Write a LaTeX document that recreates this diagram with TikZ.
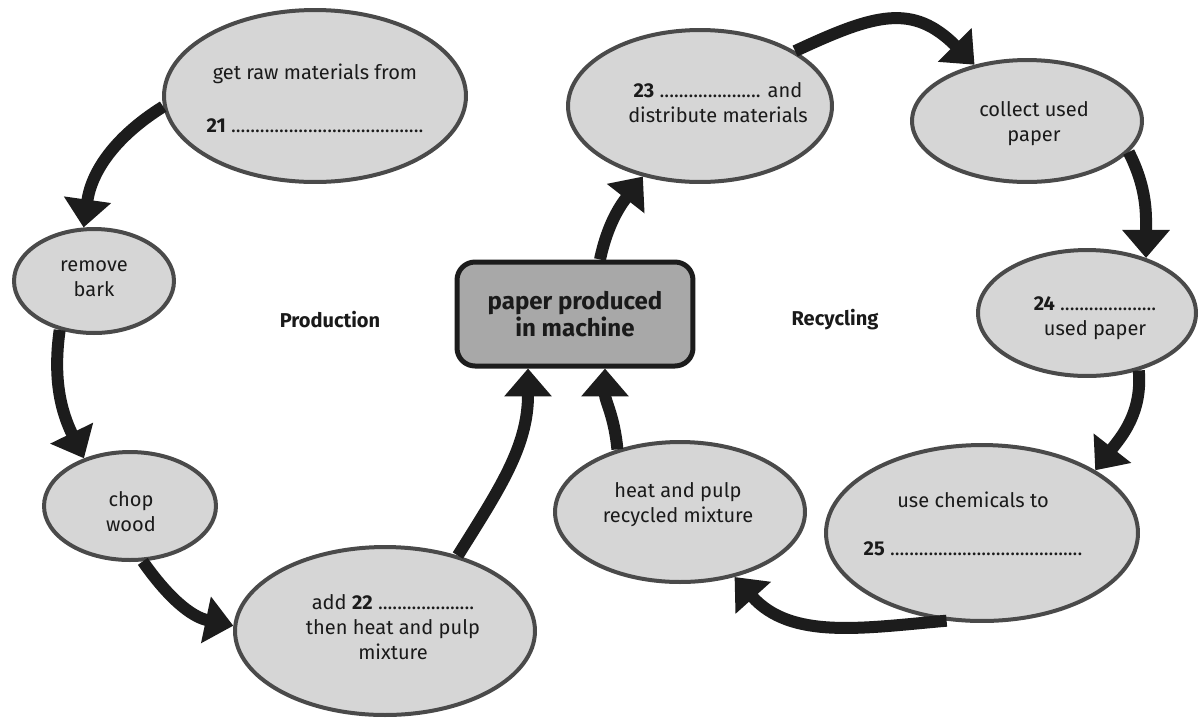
\documentclass[tikz,border=0pt]{standalone}
\usepackage{fontspec}
\setmainfont{Fira Sans}
\usetikzlibrary{arrows.meta,shapes.geometric}
\definecolor{ellfill}{HTML}{D6D6D6}
\definecolor{elldraw}{HTML}{4A4A4A}
\definecolor{boxfill}{HTML}{A8A8A8}
\definecolor{arrowc}{HTML}{1C1C1C}
\definecolor{txt}{HTML}{1A1A1A}
\begin{document}
\begin{tikzpicture}[x=0.02cm,y=0.02cm,
  oval/.style={ellipse, draw=elldraw, fill=ellfill, line width=0.08cm, inner sep=0pt},
  lbl/.style={align=center, font=\fontsize{11.4}{14.2}\selectfont, text=txt, inner sep=0pt},
  head/.style={font=\bfseries\fontsize{11.4}{14.2}\selectfont, text=txt, inner sep=0pt},
  flow/.style={draw=arrowc, line width=0.24cm, -{Triangle[width=0.92cm,length=0.56cm]}}]
\useasboundingbox[fill=white] (0,0) rectangle (1202,-721);

% ellipses
\node[oval, minimum width=6.04cm, minimum height=3.44cm] (raw) at (315,-96) {};
\node[oval, minimum width=3.2cm, minimum height=2.08cm] (bark) at (94,-281) {};
\node[oval, minimum width=3.44cm, minimum height=2.16cm] (chop) at (130,-506) {};
\node[oval, minimum width=6.0cm, minimum height=3.36cm] (add) at (385,-631) {};
\node[oval, minimum width=5.28cm, minimum height=3.04cm] (dist) at (700,-106) {};
\node[oval, minimum width=4.6cm, minimum height=2.44cm] (collect) at (1027,-121) {};
\node[oval, minimum width=4.36cm, minimum height=2.52cm] (sort) at (1087,-313) {};
\node[oval, minimum width=6.24cm, minimum height=3.52cm] (chem) at (982,-533) {};
\node[oval, minimum width=5.0cm, minimum height=2.8cm] (heat) at (680,-512) {};

% central box
\node[rectangle, rounded corners=0.36cm, draw=arrowc, fill=boxfill, line width=0.1cm,
  minimum width=4.72cm, minimum height=2.08cm, align=center, text=txt,
  font=\bfseries\fontsize{13.7}{15.5}\selectfont] (box) at (575,-314) {paper produced\\in machine};

% texts
\node[lbl] (t1) at (315,-98) {get raw materials from\\[16pt]\textbf{21} ........................................};
\node[lbl] (t2) at (94,-279) {remove\\bark};
\node[lbl] (t3) at (131,-512) {chop\\wood};
\node[lbl] (t4) at (393,-627) {add \textbf{22} ....................\\then heat and pulp\\mixture};
\node[lbl] (t6) at (718,-103) {\textbf{23} ..................... and\\distribute materials};
\node[lbl] (t7) at (1034,-124) {collect used\\paper};
\node[lbl] (t8) at (1095,-318) {\textbf{24} ....................\\used paper};
\node[lbl] (t9) at (973,-524) {use chemicals to\\[13pt]\textbf{25} ........................................};
\node[lbl] (t10) at (678,-505) {heat and pulp\\recycled mixture};

\node[head] (prod) at (330,-320) {Production};
\node[head] (recy) at (835,-320) {Recycling};

% arrows
\draw[flow] (raw.184) to[out=212, in=82] (bark.101);
\draw[flow] (bark.235) to[out=262, in=116] (chop.134);
\draw[flow] (chop.283) to[out=305, in=168] (add.178);
\draw[flow] (add.46) to[out=58, in=270] ([xshift=-0.94cm]box.south);
\draw[flow] (heat.135) to[out=95, in=270] ([xshift=0.6cm]box.south);
\draw[flow] ([xshift=0.5cm]box.north) to[out=78, in=232] (dist.231);
\draw[flow] (dist.30) to[out=25, in=135, looseness=1.25] (collect.133);
\draw[flow] (collect.343) to[out=297, in=90] (sort.43);
\draw[flow] (sort.312) to[out=275, in=52] (chem.29);
\draw[flow] (chem.248) to[out=185, in=312] (heat.310);
\end{tikzpicture}
\end{document}
